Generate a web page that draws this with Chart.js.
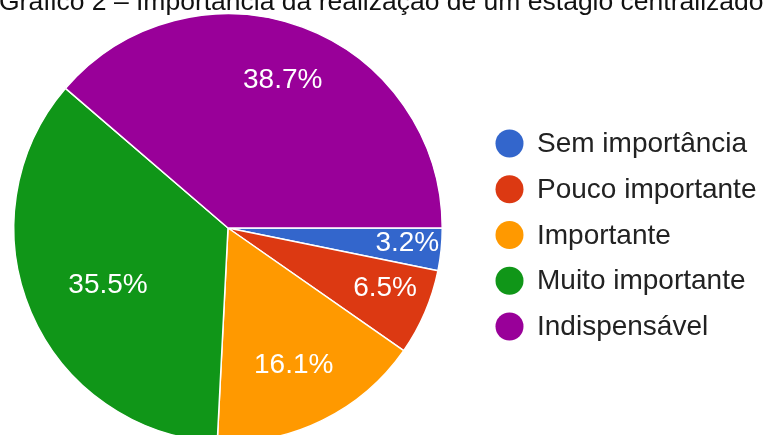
<!DOCTYPE html>
<html><head><meta charset="utf-8">
<script src="https://cdn.jsdelivr.net/npm/chart.js@4"></script>
<style>
html,body{margin:0;padding:0;background:#fff;overflow:hidden;width:765px;height:435px;}
#wrap{position:absolute;left:0;top:0;width:765px;height:460px;}
#title{position:absolute;left:-1px;top:-12px;font:26.5px "Liberation Sans",Arial,sans-serif;line-height:26px;color:#111;white-space:nowrap;}
</style></head><body>
<div id="wrap"><canvas id="c" width="765" height="460"></canvas></div>
<div id="title"></div>
<script>
const titleText = "Gráfico 2 – Importância da realização de um estágio centralizado";
const categories = ["Sem importância", "Pouco importante", "Importante", "Muito importante", "Indispensável"];
const percentages = [3.2, 6.5, 16.1, 35.5, 38.7];
const sliceColors = ["#3366cc", "#dc3912", "#ff9900", "#109618", "#990099"];

document.getElementById('title').textContent = titleText;

const pieLabels = {
  id: 'pieLabels',
  afterDatasetsDraw(chart, args, opts) {
    const meta = chart.getDatasetMeta(0);
    const ctx = chart.ctx;
    const values = chart.data.datasets[0].data;
    ctx.save();
    ctx.font = opts.font;
    ctx.fillStyle = opts.color;
    ctx.textAlign = 'center';
    ctx.textBaseline = 'middle';
    meta.data.forEach((arc, i) => {
      const p = arc.getProps(['x', 'y', 'startAngle', 'endAngle', 'outerRadius'], true);
      const mid = (p.startAngle + p.endAngle) / 2 + opts.angleShift[i] * Math.PI / 180;
      const r = p.outerRadius * opts.radius[i];
      ctx.fillText(values[i].toFixed(1) + '%', p.x + Math.cos(mid) * r, p.y + Math.sin(mid) * r);
    });
    ctx.restore();
  }
};

const sideLegend = {
  id: 'sideLegend',
  afterDraw(chart, args, o) {
    const ctx = chart.ctx;
    const labels = chart.data.labels;
    const cols = chart.data.datasets[0].backgroundColor;
    ctx.save();
    ctx.font = o.font;
    ctx.textAlign = 'left';
    ctx.textBaseline = 'middle';
    labels.forEach((lab, i) => {
      const y = o.top + i * o.step;
      ctx.beginPath();
      ctx.arc(o.x, y, o.r, 0, Math.PI * 2);
      ctx.fillStyle = cols[i];
      ctx.fill();
      ctx.fillStyle = o.color;
      ctx.fillText(lab, o.textX, y + 1);
    });
    ctx.restore();
  }
};

new Chart(document.getElementById('c'), {
  type: 'pie',
  data: {
    labels: categories,
    datasets: [{
      data: percentages,
      backgroundColor: sliceColors,
      borderColor: '#ffffff',
      borderWidth: 1.5
    }]
  },
  options: {
    responsive: false,
    animation: false,
    rotation: 90,
    layout: { padding: { left: 13, top: 13, right: 322, bottom: 17 } },
    plugins: {
      legend: { display: false },
      tooltip: { enabled: false },
      pieLabels: {
        font: '28px "Liberation Sans", Arial, sans-serif',
        color: '#ffffff',
        radius: [0.84, 0.786, 0.71, 0.62, 0.735],
        angleShift: [-1, -2.1, 0.5, -2.2, 0]
      },
      sideLegend: {
        font: '28px "Liberation Sans", Arial, sans-serif',
        color: '#222222',
        x: 509.5, r: 14, top: 143.5, step: 45.75, textX: 537
      }
    }
  },
  plugins: [pieLabels, sideLegend]
});
</script>
</body></html>
